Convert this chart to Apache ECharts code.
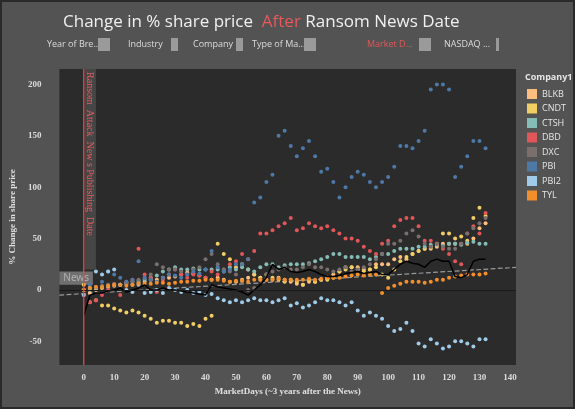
<!DOCTYPE html>
<html><head><meta charset="utf-8">
<script src="https://cdn.jsdelivr.net/npm/echarts@6/dist/echarts.min.js"></script>
<style>html,body{margin:0;padding:0;background:#535353;}#c{width:575px;height:409px;}</style>
</head><body><div id="c"></div>
<script>
const days = Array.from({length:67},(_,i)=>i*2);
const companies = ['BLKB','CNDT','CTSH','DBD','DXC','PBI','PBI2','TYL'];
const colors = ['#ffbe7d','#f1ce63','#86bcb6','#e15759','#79706e','#4e79a7','#a0cbe8','#f28e2b'];
const BLKB=[0,-3,0,2,3,4, 5,6,5,7,8, 10,10,12,12,13, 15,17,16,14,12, 10,12,10,8,8, 10,12,15,12, 10,10,12,10,8,6, 5,8,8,10,12, 15,18,22,22,22, 20,20,25,25,25, 30,32,30,35,38, 40,40,42,45,45, 45,45,45,50,60,65];
const CNDT=[5,-12,-10,-15,-15,-18, -20,-22,-20,-22,-25, -28,-32,-30,-30,-32, -32,-35,-33,-35,-28, -25,45,35,30,22, 25,20,15,12, 15,12,10,8,10,8, 5,10,8,10,10, 12,18,20,22,20, 18,20,22,15,12, 20,28,32,35,38, 40,42,45,55,55, 50,52,48,70,80,72];
const CTSH=[0,0,2,3,4,5, 5,7,8,9,10, 12,14,18,20,22, 20,20,21,20,20, 20,20,18,22,20, 22,20,18,22, 25,25,22,24,25,25, 25,26,28,30,32, 35,35,32,32,32, 32,30,32,35,35, 38,40,40,40,42, 42,44,44,43,45, 45,44,46,47,45,45];
const DBD=[-5,-12,-10,-5,0,5, -5,8,10,40,15, 12,-2,10,15,20, 15,12,15,14,12, 18,15,20,25,28, 35,30,38,55, 55,58,62,65,70,58, 60,65,62,60,62, 58,55,50,50,48, 42,38,35,45,48, 62,68,70,70,62, 48,48,45,40,35, 28,25,55,62,55,75];
const DXC=[0,2,3,4,5,6, 5,6,8,10,12, 15,25,22,20,20, 18,15,20,22,30, 35,25,20,18,15, 8,0,2,10, 15,18,20,22,20,20, 22,25,22,22,20, 18,20,22,18,20, 22,25,30,35,45, 45,48,55,58,52, 45,42,45,42,40, 40,45,55,60,65,70];
const PBI=[0,5,3,8,18,15, 12,8,10,28,12, 10,8,12,15,14, 12,15,18,16,20, 38,22,18,20,25, 25,30,85,90, 105,112,150,155,140,130, 138,145,130,115,118, 105,90,100,110,115, 112,105,100,105,110, 120,140,140,138,145, 155,195,200,200,195, 110,120,130,145,145,138];
const PBI2=[-5,2,18,15,18,20, 5,0,-2,5,-3, -2,0,-3,2,0, -2,0,-3,-2,-5, -4,-8,-10,-12,-10, -12,-10,-8,-10, -10,-12,-10,-8,-15,-13, -17,-15,-12,-8,-10, -10,-12,-15,-12,-20, -25,-22,-25,-28,-35, -40,-38,-32,-40,-52, -55,-48,-52,-57,-55, -50,-50,-52,-55,-48,-48];
const TYL=[0,2,3,3,4,5, 5,4,5,6,6, 6,7,7,6,7, 8,8,9,9,10, 10,10,9,8,9, 9,8,10,10, 10,10,11,10,10,10, 10,11,10,11,12, 12,12,13,14,15, 14,15,15,-3,2, 4,6,8,8,8, 7,8,10,10,12, 13,14,15,15,15,16];
const NASDAQ=[-25,-5,-3,-3,-1,0, 2,-2,0,2,5, 0,0,2,0,0, -1,-2,-3,-4,-5, 5,3,2,1,0, -2,-5,0,5, 12,25,20,22,18,17, 18,20,18,15,13, 13,14,16,17,18, 16,17,18,15,15, 20,25,28,26,25, 22,28,30,28,28, 13,12,15,28,30,30];
const trendX=[-8,142], trendY=[-5,22];
const xTicks=[0,10,20,30,40,50,60,70,80,90,100,110,120,130,140];
const yTicks=[-50,0,50,100,150,200];
const values={BLKB,CNDT,CTSH,DBD,DXC,PBI,PBI2,TYL};

const serif='"Liberation Serif","DejaVu Serif",serif';
const chart=echarts.init(document.getElementById('c'));
const series=companies.map((n,i)=>({name:n,type:'scatter',symbolSize:4,
  itemStyle:{color:colors[i],opacity:1},data:days.map((d,j)=>[d,values[n][j]]),z:3}));
series.push({name:'NASDAQ',type:'line',showSymbol:false,symbol:'none',lineStyle:{color:'#000',width:1.5},
  data:days.map((d,j)=>[d,NASDAQ[j]]),z:4,
  markLine:{silent:true,symbol:'none',label:{show:false},lineStyle:{color:'#1a1a1a',type:'solid',width:1.2},
    data:[{yAxis:0}]}});
series.push({name:'trend',type:'line',symbol:'none',lineStyle:{color:'#9a9a9a',type:'dashed',width:1.2},
  data:trendX.map((x,i)=>[x,trendY[i]]),z:2,
  markArea:{silent:true,data:[
    [{coord:[0.3,20],itemStyle:{color:'#464646',opacity:1}},{coord:[4,215]}],
    [{coord:[-8,5],itemStyle:{color:'#8f8f8f',opacity:0.7},label:{show:true,position:'inside',formatter:'News',color:'#b0b0b0',fontSize:10,fontFamily:'"Noto Sans"'}},{coord:[3,18]}]
  ]}});
series.push({name:'news',type:'line',symbol:'none',lineStyle:{color:'#e8484b',width:1.3},data:[[0,-73],[0,215]],z:10});

chart.setOption({
  backgroundColor:'#535353',animation:false,
  title:[{text:'{w|Change in % share price  }{r|After}{w| Ransom News Date}',left:58,top:9,
    textStyle:{rich:{w:{color:'#f0f0f0',fontSize:17,fontWeight:'normal',fontFamily:'"Open Sans"'},r:{color:'#e8595b',fontSize:17,fontWeight:'normal',fontFamily:'"Open Sans"'}}}},
    {text:'Company1',left:520,top:68,textStyle:{color:'#e6e6e6',fontSize:9,fontWeight:'bold',fontFamily:'"Open Sans"'}}],
  legend:{data:companies,orient:'vertical',left:522,top:84,itemWidth:10,itemHeight:10,itemGap:4.5,icon:'rect',
    textStyle:{color:'#e6e6e6',fontSize:9,fontFamily:'"Open Sans"'}},
  grid:{left:56,right:59,top:69,bottom:44,show:true,backgroundColor:'#2b2b2b',borderWidth:0},
  xAxis:{type:'value',min:-8,max:142,name:'MarketDays (~3 years after the News)',nameLocation:'middle',nameGap:19,
    nameTextStyle:{color:'#e0e0e0',fontSize:9,fontWeight:'bold',fontFamily:serif},
    axisLine:{show:false},splitLine:{show:false},axisTick:{show:false},
    axisLabel:{customValues:xTicks,color:'#dcdcdc',fontSize:9,fontWeight:'bold',fontFamily:serif,margin:8}},
  yAxis:{type:'value',min:-73,max:215,name:'% Change in share price',nameLocation:'middle',nameGap:34,
    nameTextStyle:{color:'#e0e0e0',fontSize:9,fontWeight:'bold',fontFamily:serif},
    axisLine:{show:false},splitLine:{show:false},axisTick:{show:false},
    axisLabel:{customValues:yTicks,color:'#dcdcdc',fontSize:9,fontWeight:'bold',fontFamily:serif,margin:18}},
  series
});
const p=chart.convertToPixel({xAxisIndex:0,yAxisIndex:0},[2,212]);
const f={fontSize:9,fontFamily:'"Open Sans"',fill:'#dcdcdc'};
const filt=[['Year of Bre...',47,98],['Industry',128,171],['Company',193,236],['Type of Ma...',252,304],['Market D...',367,419],['NASDAQ ...',444,496]];
const g=[{type:'rect',shape:{x:1,y:1,width:573,height:407},style:{fill:'none',stroke:'#2a2a2a',lineWidth:2},z:100},
  {type:'group',x:p[0],y:p[1],rotation:-Math.PI/2,z:100,children:[
    {type:'text',x:0,y:0,z:100,style:{text:'Ransom  Attack  New s Publishing  Date',fill:'#f05a5c',fontSize:10,fontFamily:serif,align:'left',verticalAlign:'middle'}}]}];
filt.forEach((a,i)=>{g.push({type:'text',x:a[1],y:40,style:Object.assign({},f,{text:a[0],fill:i==4?'#e15759':'#dcdcdc'})});
  g.push({type:'rect',shape:{x:a[2],y:38,width:i==5?3:(i==1||i==2?7:12),height:13},style:{fill:'#9a9a9a'}});});
chart.setOption({graphic:g});
</script></body></html>
